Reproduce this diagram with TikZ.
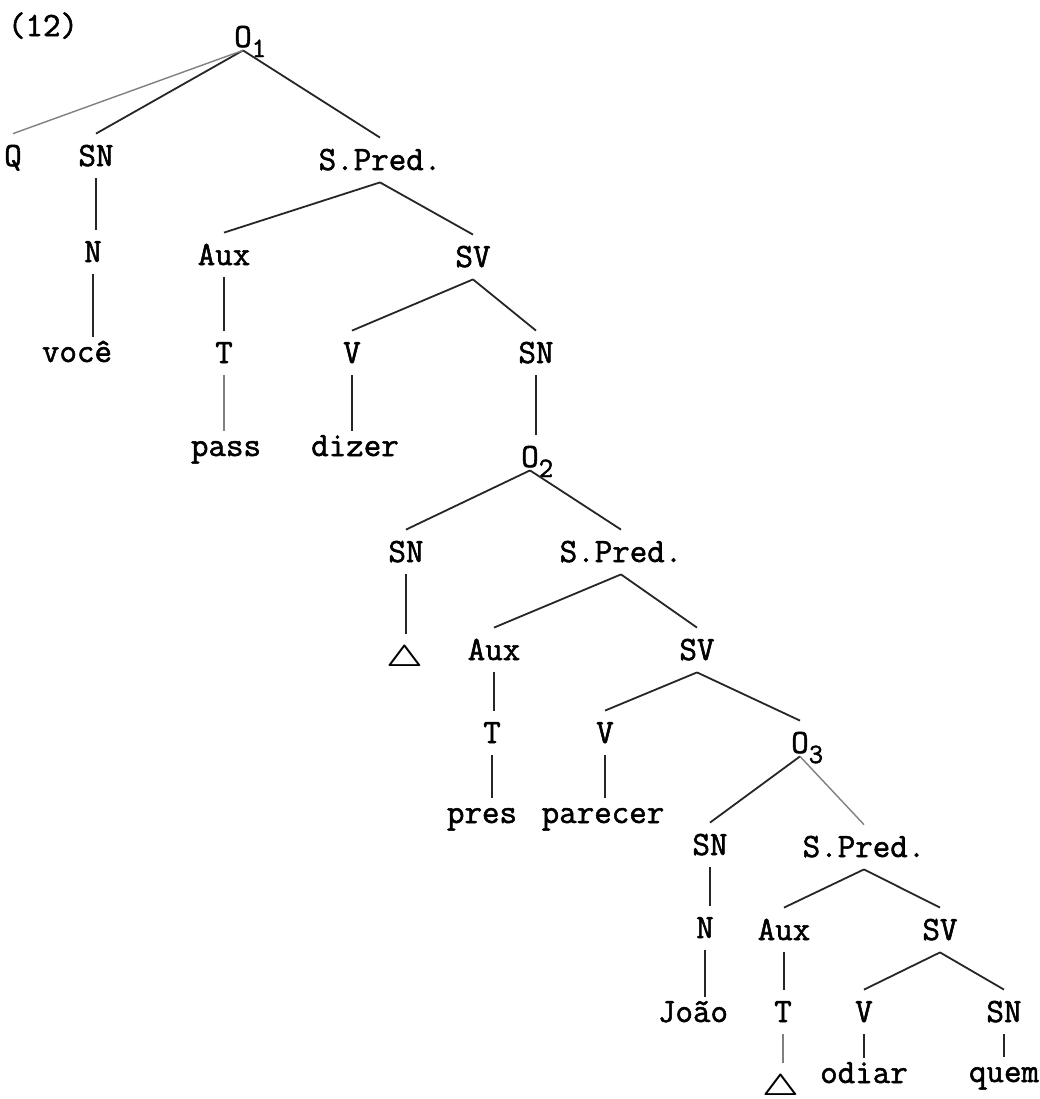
\documentclass[tikz,border=0pt]{standalone}
\usepackage{fontspec}
\usepackage{graphicx}
\setmonofont{Latin Modern Mono}[FakeBold=1.6]
\newcommand{\subidx}[1]{\rlap{\raisebox{-5pt}{\fontsize{14}{14}\selectfont #1}}}
\newcommand{\deltri}{\scalebox{1.25}[1.05]{\boldmath$\triangle$}}
\begin{document}
\begin{tikzpicture}[x=0.5pt,y=-0.5pt,
  cat/.style={font=\ttfamily\fontsize{17}{19}\selectfont, inner xsep=0pt,
    inner ysep=6pt, text height=10pt, text depth=0pt, anchor=base},
  leaf/.style={cat, inner ysep=4.5pt, text height=8pt},
  onode/.style={cat, inner ysep=1.5pt, text height=14.5pt},
  trinode/.style={cat, font=\fontsize{14}{14}\selectfont},
  edge/.style={draw=black!85, line width=0.9pt},
  faint/.style={draw=black!50, line width=0.7pt}]
\useasboundingbox (0,0) rectangle (1040,1099);
\fill[white] (0,0) rectangle (1040,1099);

% example number
\node[cat] (num) at (43,36) {(12)};

% top clause
\node[onode] (o1) at (243,47) {O\subidx{1}};
\node[cat] (q) at (13,166) {Q};
\node[cat] (sn1) at (96,166) {SN};
\node[cat] (sp1) at (380,170) {S.Pred.};
\node[cat] (n1) at (93,262) {N};
\node[leaf] (voce) at (77,362) {você};
\node[cat] (aux1) at (224,265) {Aux};
\node[cat] (sv1) at (473,267) {SV};
\node[cat] (t1) at (224,363) {T};
\node[leaf] (pass) at (226,456) {pass};
\node[cat] (v1) at (352,363) {V};
\node[cat] (sn2) at (536,363) {SN};
\node[leaf] (dizer) at (355,456) {dizer};

% second clause
\node[onode] (o2) at (530,467) {O\subidx{2}};
\node[cat] (sn3) at (406,562) {SN};
\node[trinode] (tri1) at (405,666) {\deltri};
\node[cat] (sp2) at (621,562) {S.Pred.};
\node[cat] (aux2) at (494,660) {Aux};
\node[cat] (sv2) at (697,660) {SV};
\node[cat] (t2) at (492,743) {T};
\node[leaf] (pres) at (482,823) {pres};
\node[cat] (v2) at (605,743) {V};
\node[leaf] (parecer) at (603,823) {parecer};

% third clause
\node[onode] (o3) at (800,753) {O\subidx{3}};
\node[cat] (sn4) at (710,855) {SN};
\node[cat] (sp3) at (864,857) {S.Pred.};
\node[cat] (n2) at (705,938) {N};
\node[leaf] (joao) at (693,1022) {João};
\node[cat] (aux3) at (784,940) {Aux};
\node[cat] (sv3) at (940,940) {SV};
\node[cat] (t3) at (783,1022) {T};
\node[trinode] (tri2) at (781,1095) {\deltri};
\node[cat] (v3) at (864,1022) {V};
\node[leaf] (odiar) at (864,1083) {odiar};
\node[cat] (sn5) at (1004,1022) {SN};
\node[leaf] (quem) at (1004,1082) {quem};

% branching edges
\foreach \p/\c in {o1/sn1, o1/sp1, sp1/aux1, sp1/sv1, sv1/v1, sv1/sn2,
  o2/sn3, o2/sp2, sp2/aux2, sp2/sv2, sv2/v2, sv2/o3,
  o3/sn4, sp3/aux3, sp3/sv3, sv3/v3, sv3/sn5}
  \draw[edge] (\p.south) -- (\c.north);
\draw[faint] (o1.south) -- (q.north);
\draw[faint] (o3.south) -- (sp3.north);

% unary edges
\foreach \p/\c in {sn1/n1, n1/voce, aux1/t1, v1/dizer, sn2/o2, sn3/tri1,
  aux2/t2, t2/pres, v2/parecer, sn4/n2, n2/joao, aux3/t3, v3/odiar, sn5/quem}
  \draw[edge] (\p.south) -- (\p.south |- \c.north);
\draw[faint] (t1.south) -- (t1.south |- pass.north);
\draw[faint] (t3.south) -- (t3.south |- tri2.north);
\end{tikzpicture}
\end{document}
